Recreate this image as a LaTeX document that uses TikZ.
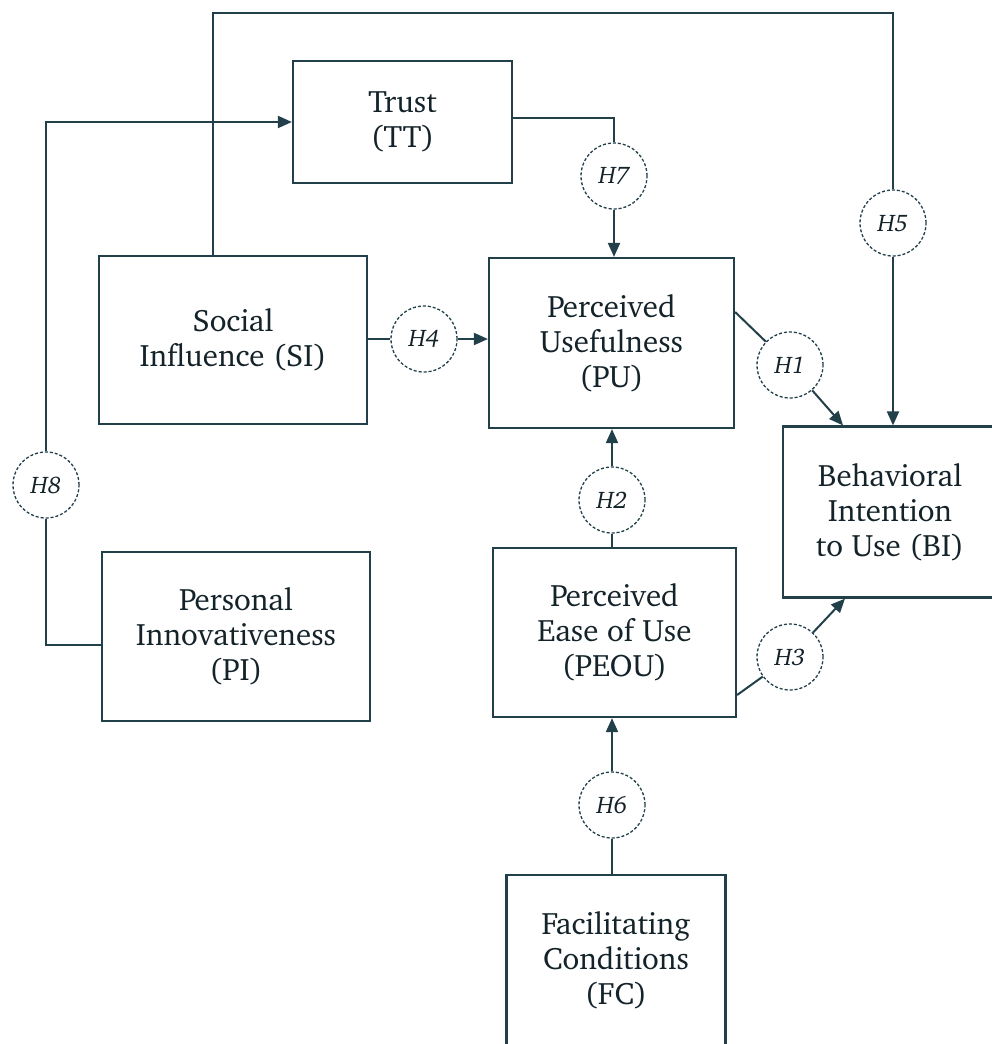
\documentclass[tikz,border=0pt]{standalone}
\usepackage[T1]{fontenc}
\usepackage{charter}
\usetikzlibrary{arrows.meta}
\definecolor{ink}{HTML}{22404A}
\definecolor{txt}{HTML}{14232A}
\begin{document}
\begin{tikzpicture}[x=1pt,y=-1pt,
  box/.style={draw=ink,line width=2.2pt,align=center,inner sep=0pt,
    font=\fontsize{31}{35}\selectfont,text=txt},
  hyp/.style={draw=ink,dash pattern=on 3pt off 2pt,circle,minimum size=66pt,
    inner sep=0pt,line width=1.3pt,font=\fontsize{24}{28}\selectfont\itshape,text=txt},
  link/.style={draw=ink,line width=2pt},
  arr/.style={link,-{Triangle[length=14pt,width=12pt]}}]
\fill[white] (0,0) rectangle (992,1044);
\useasboundingbox (0,0) rectangle (992,1044);

% constructs
\node[box,minimum width=219pt,minimum height=122pt] (tt) at (402.5,122) {Trust\\(TT)};
\node[box,minimum width=268pt,minimum height=168pt] (si) at (233,340) {Social\\Influence (SI)};
\node[box,minimum width=245pt,minimum height=170pt] (pu) at (611.5,343) {Perceived\\Usefulness\\(PU)};
\node[box,minimum width=214pt,minimum height=171pt] (bi) at (890,512) {Behavioral\\Intention\\to Use (BI)};
\node[box,minimum width=268pt,minimum height=169pt] (pi) at (236,636.5) {Personal\\Innovativeness\\(PI)};
\node[box,minimum width=243pt,minimum height=169pt] (peou) at (614.5,632.5) {Perceived\\Ease of Use\\(PEOU)};
\node[box,minimum width=219pt,minimum height=170pt] (fc) at (616,960) {Facilitating\\Conditions\\(FC)};

% hypotheses
\node[hyp] (h1) at (790,365) {H1};
\node[hyp] (h2) at (612,500) {H2};
\node[hyp] (h3) at (790,657) {H3};
\node[hyp] (h4) at (424,339) {H4};
\node[hyp] (h5) at (893,223) {H5};
\node[hyp] (h6) at (612,805) {H6};
\node[hyp] (h7) at (614,176) {H7};
\node[hyp] (h8) at (46,485) {H8};

% route of the SI -> BI path over the top
\coordinate (topL) at (213,13);
\coordinate (topR) at (893,13);

% H1: PU -> BI
\draw[link] ([yshift=31pt]pu.east) -- (h1);
\draw[arr] (h1) -- ([xshift=-47pt]bi.north);
% H2: PEOU -> PU
\draw[link] (peou.north -| h2) -- (h2);
\draw[arr] (h2) -- (h2 |- pu.south);
% H3: PEOU -> BI
\draw[link] ([yshift=-62.5pt]peou.east) -- (h3);
\draw[arr] (h3) -- ([xshift=-45pt]bi.south);
% H4: SI -> PU
\draw[link] (si.east |- h4) -- (h4);
\draw[arr] (h4) -- (h4 -| pu.west);
% H5: SI -> BI
\draw[link] (topL |- si.north) -- (topL) -- (topR) -- (h5);
\draw[arr] (h5) -- (h5 |- bi.north);
% H6: FC -> PEOU
\draw[link] (fc.north -| h6) -- (h6);
\draw[arr] (h6) -- (h6 |- peou.south);
% H7: TT -> PU
\draw[link] ([yshift=4pt]tt.east) -- ([yshift=4pt]tt.east -| h7) -- (h7);
\draw[arr] (h7) -- (h7 |- pu.north);
% H8: PI -> TT
\draw[link] ([yshift=-8.5pt]pi.west) -- ([yshift=-8.5pt]pi.west -| h8) -- (h8);
\draw[arr] (h8) -- (h8 |- tt.west) -- (tt.west);
\end{tikzpicture}
\end{document}
